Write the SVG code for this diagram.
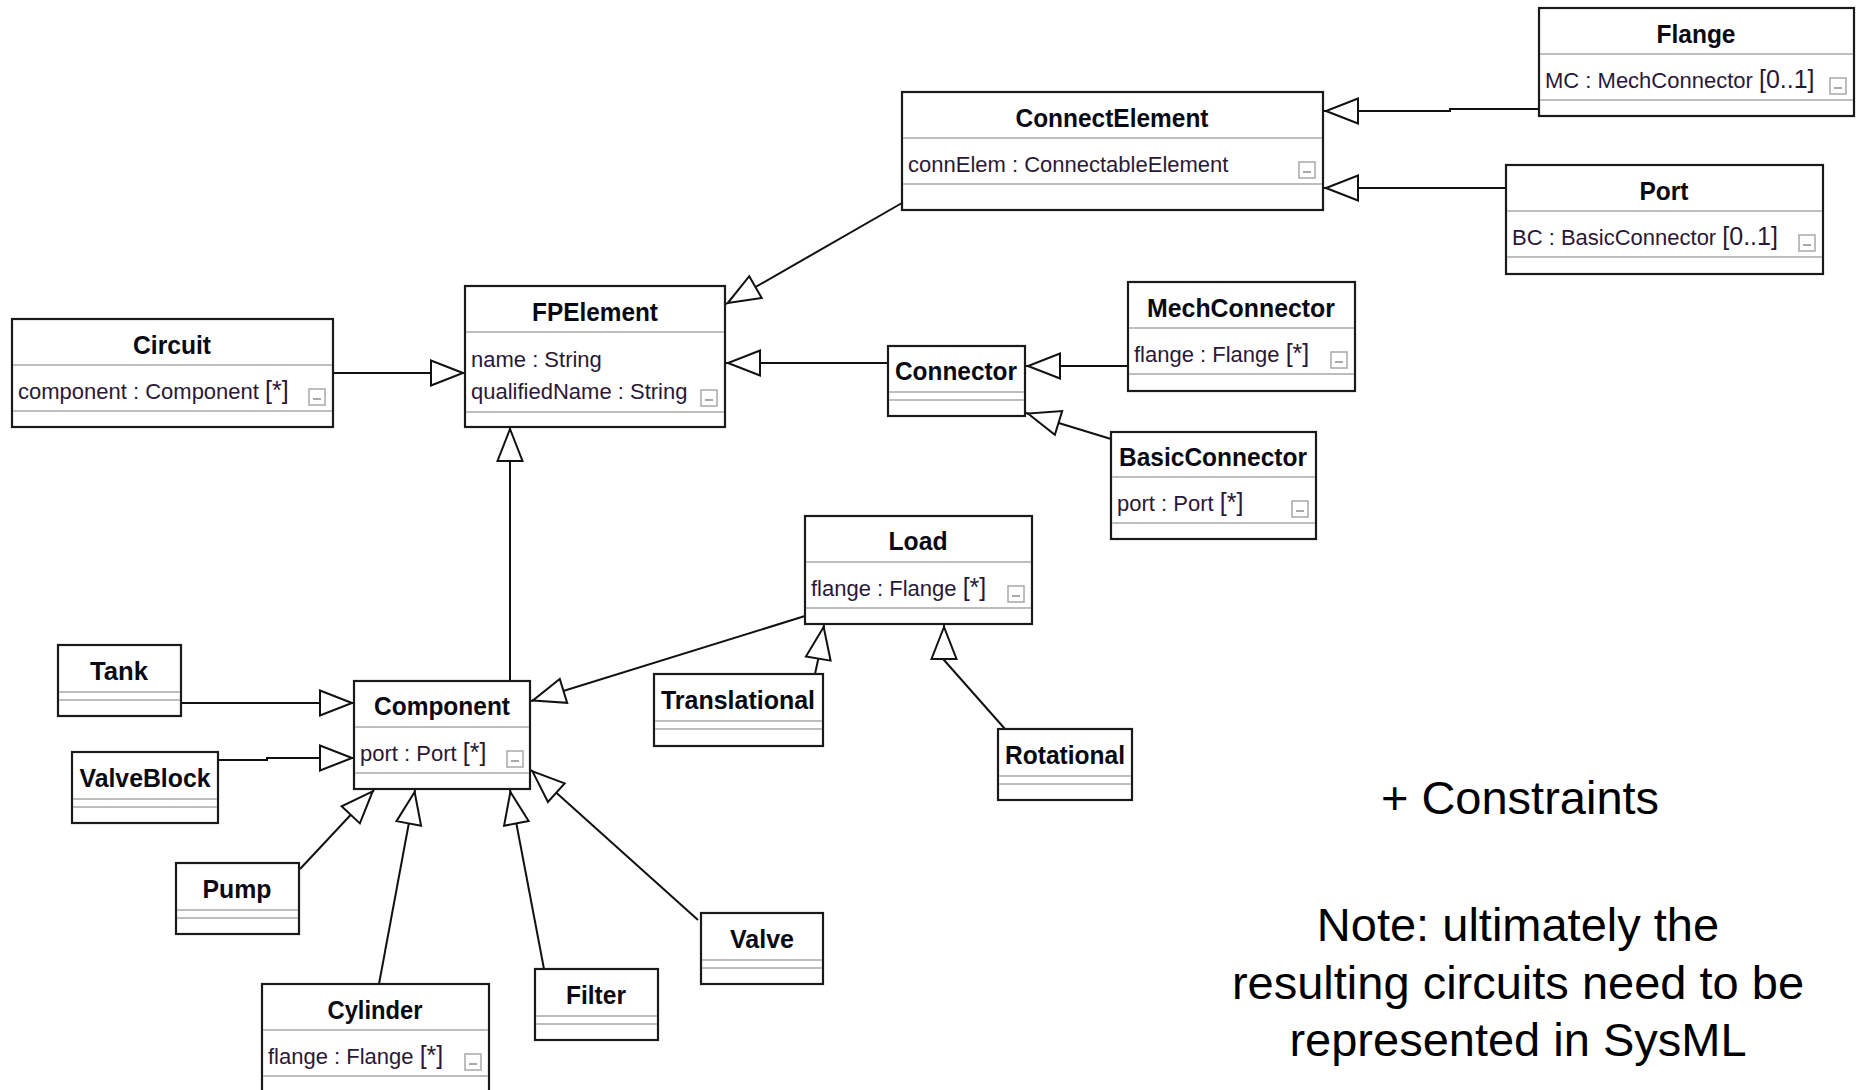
<svg xmlns="http://www.w3.org/2000/svg" width="1856" height="1090" viewBox="0 0 1856 1090">
  <style>
    .box { fill: #ffffff; stroke: #1a1a1a; stroke-width: 2.2; }
    .div { stroke: #bdbdbd; stroke-width: 2; }
    .title { font-family: "Liberation Sans", Arial, sans-serif; font-weight: bold; font-size: 26px; fill: #0a0a14; text-anchor: middle; }
    .attr { font-family: "Liberation Sans", Arial, sans-serif; font-size: 22px; fill: #2a1836; }
    .mult { font-size: 25px; }
    .tog rect { fill: #ffffff; stroke: #a8a8a8; stroke-width: 1.5; }
    .tog line { stroke: #8c8c8c; stroke-width: 1.5; }
    .edge { fill: none; stroke: #111111; stroke-width: 2; marker-end: url(#gen); }
    .note { font-family: "Liberation Sans", Arial, sans-serif; font-size: 47px; fill: #000000; text-anchor: middle; }
  </style>
  <defs>
    <!-- hollow generalization triangle -->
    <marker id="gen" markerUnits="userSpaceOnUse" markerWidth="44" markerHeight="34" viewBox="-38 -17 44 34" refX="0" refY="0" orient="auto" overflow="visible">
      <path d="M-2,0 L-34,-12.5 L-34,12.5 Z" fill="#ffffff" stroke="#111111" stroke-width="2"/>
    </marker>
  </defs>
  <rect width="1856" height="1090" fill="#ffffff"/>

  <!-- generalization connectors -->
  <g id="connectors">
    <polyline class="edge" points="1539,109 1450,109 1450,111 1324,111"/>
    <polyline class="edge" points="1506,188 1324,188"/>
    <polyline class="edge" points="902,203 726,304"/>
    <polyline class="edge" points="888,363 726,363"/>
    <polyline class="edge" points="333,373 465,373"/>
    <polyline class="edge" points="1128,366 1026,366"/>
    <polyline class="edge" points="1111,439 1026,413"/>
    <polyline class="edge" points="510,681 510,427"/>
    <polyline class="edge" points="805,616 531,701"/>
    <polyline class="edge" points="815,674 818,660 824,625"/>
    <polyline class="edge" points="1005,729 944,660 944,625"/>
    <polyline class="edge" points="181,703 354,703"/>
    <polyline class="edge" points="218,760 267,760 267,758 354,758"/>
    <polyline class="edge" points="300,869 374,790"/>
    <polyline class="edge" points="379,984 415,790"/>
    <polyline class="edge" points="544,969 510,790"/>
    <polyline class="edge" points="698,920 531,770"/>
  </g>

  <g id="n-flange">
    <rect class="box" x="1539" y="8" width="315" height="108"/>
    <line class="div" x1="1540" y1="54" x2="1853" y2="54"/>
    <line class="div" x1="1540" y1="100" x2="1853" y2="100"/>
    <text class="title" x="1696" y="43" textLength="79" lengthAdjust="spacingAndGlyphs">Flange</text>
    <text class="attr" x="1545" y="88">MC : MechConnector <tspan class="mult">[0..1]</tspan></text>
    <g class="tog"><rect x="1830" y="78" width="16" height="16"/><line x1="1834" y1="88" x2="1842" y2="88"/></g>
  </g>

  <g id="n-connectelement">
    <rect class="box" x="902" y="92" width="421" height="118"/>
    <line class="div" x1="903" y1="138" x2="1322" y2="138"/>
    <line class="div" x1="903" y1="184" x2="1322" y2="184"/>
    <text class="title" x="1112" y="127" textLength="193" lengthAdjust="spacingAndGlyphs">ConnectElement</text>
    <text class="attr" x="908" y="172">connElem : ConnectableElement</text>
    <g class="tog"><rect x="1299" y="162" width="16" height="16"/><line x1="1303" y1="172" x2="1311" y2="172"/></g>
  </g>

  <g id="n-port">
    <rect class="box" x="1506" y="165" width="317" height="109"/>
    <line class="div" x1="1507" y1="211" x2="1822" y2="211"/>
    <line class="div" x1="1507" y1="257" x2="1822" y2="257"/>
    <text class="title" x="1664" y="200" textLength="49" lengthAdjust="spacingAndGlyphs">Port</text>
    <text class="attr" x="1512" y="245">BC : BasicConnector <tspan class="mult">[0..1]</tspan></text>
    <g class="tog"><rect x="1799" y="235" width="16" height="16"/><line x1="1803" y1="245" x2="1811" y2="245"/></g>
  </g>

  <g id="n-fpelement">
    <rect class="box" x="465" y="286" width="260" height="141"/>
    <line class="div" x1="466" y1="332" x2="724" y2="332"/>
    <line class="div" x1="466" y1="412" x2="724" y2="412"/>
    <text class="title" x="595" y="321" textLength="126" lengthAdjust="spacingAndGlyphs">FPElement</text>
    <text class="attr" x="471" y="367">name : String</text>
    <text class="attr" x="471" y="399">qualifiedName : String</text>
    <g class="tog"><rect x="701" y="390" width="16" height="16"/><line x1="705" y1="400" x2="713" y2="400"/></g>
  </g>

  <g id="n-circuit">
    <rect class="box" x="12" y="319" width="321" height="108"/>
    <line class="div" x1="13" y1="365" x2="332" y2="365"/>
    <line class="div" x1="13" y1="411" x2="332" y2="411"/>
    <text class="title" x="172" y="354" textLength="78" lengthAdjust="spacingAndGlyphs">Circuit</text>
    <text class="attr" x="18" y="399">component : Component <tspan class="mult">[*]</tspan></text>
    <g class="tog"><rect x="309" y="389" width="16" height="16"/><line x1="313" y1="399" x2="321" y2="399"/></g>
  </g>

  <g id="n-connector">
    <rect class="box" x="888" y="346" width="137" height="70"/>
    <line class="div" x1="889" y1="392" x2="1024" y2="392"/>
    <line class="div" x1="889" y1="400" x2="1024" y2="400"/>
    <text class="title" x="956" y="380" textLength="122" lengthAdjust="spacingAndGlyphs">Connector</text>
  </g>

  <g id="n-mechconnector">
    <rect class="box" x="1128" y="282" width="227" height="109"/>
    <line class="div" x1="1129" y1="328" x2="1354" y2="328"/>
    <line class="div" x1="1129" y1="374" x2="1354" y2="374"/>
    <text class="title" x="1241" y="317" textLength="188" lengthAdjust="spacingAndGlyphs">MechConnector</text>
    <text class="attr" x="1134" y="362">flange : Flange <tspan class="mult">[*]</tspan></text>
    <g class="tog"><rect x="1331" y="352" width="16" height="16"/><line x1="1335" y1="362" x2="1343" y2="362"/></g>
  </g>

  <g id="n-basicconnector">
    <rect class="box" x="1111" y="432" width="205" height="107"/>
    <line class="div" x1="1112" y1="477" x2="1315" y2="477"/>
    <line class="div" x1="1112" y1="523" x2="1315" y2="523"/>
    <text class="title" x="1213" y="466" textLength="188" lengthAdjust="spacingAndGlyphs">BasicConnector</text>
    <text class="attr" x="1117" y="511">port : Port <tspan class="mult">[*]</tspan></text>
    <g class="tog"><rect x="1292" y="501" width="16" height="16"/><line x1="1296" y1="511" x2="1304" y2="511"/></g>
  </g>

  <g id="n-load">
    <rect class="box" x="805" y="516" width="227" height="108"/>
    <line class="div" x1="806" y1="562" x2="1031" y2="562"/>
    <line class="div" x1="806" y1="608" x2="1031" y2="608"/>
    <text class="title" x="918" y="550" textLength="59" lengthAdjust="spacingAndGlyphs">Load</text>
    <text class="attr" x="811" y="596">flange : Flange <tspan class="mult">[*]</tspan></text>
    <g class="tog"><rect x="1008" y="586" width="16" height="16"/><line x1="1012" y1="596" x2="1020" y2="596"/></g>
  </g>

  <g id="n-tank">
    <rect class="box" x="58" y="645" width="123" height="71"/>
    <line class="div" x1="59" y1="692" x2="180" y2="692"/>
    <line class="div" x1="59" y1="700" x2="180" y2="700"/>
    <text class="title" x="119" y="680" textLength="58" lengthAdjust="spacingAndGlyphs">Tank</text>
  </g>

  <g id="n-component">
    <rect class="box" x="354" y="681" width="176" height="108"/>
    <line class="div" x1="355" y1="727" x2="529" y2="727"/>
    <line class="div" x1="355" y1="773" x2="529" y2="773"/>
    <text class="title" x="442" y="715" textLength="136" lengthAdjust="spacingAndGlyphs">Component</text>
    <text class="attr" x="360" y="761">port : Port <tspan class="mult">[*]</tspan></text>
    <g class="tog"><rect x="507" y="751" width="16" height="16"/><line x1="511" y1="761" x2="519" y2="761"/></g>
  </g>

  <g id="n-valveblock">
    <rect class="box" x="72" y="752" width="146" height="71"/>
    <line class="div" x1="73" y1="799" x2="217" y2="799"/>
    <line class="div" x1="73" y1="807" x2="217" y2="807"/>
    <text class="title" x="145" y="787" textLength="131" lengthAdjust="spacingAndGlyphs">ValveBlock</text>
  </g>

  <g id="n-translational">
    <rect class="box" x="654" y="674" width="169" height="72"/>
    <line class="div" x1="655" y1="721" x2="822" y2="721"/>
    <line class="div" x1="655" y1="729" x2="822" y2="729"/>
    <text class="title" x="738" y="709" textLength="154" lengthAdjust="spacingAndGlyphs">Translational</text>
  </g>

  <g id="n-rotational">
    <rect class="box" x="998" y="729" width="134" height="71"/>
    <line class="div" x1="999" y1="776" x2="1131" y2="776"/>
    <line class="div" x1="999" y1="784" x2="1131" y2="784"/>
    <text class="title" x="1065" y="764" textLength="120" lengthAdjust="spacingAndGlyphs">Rotational</text>
  </g>

  <g id="n-pump">
    <rect class="box" x="176" y="863" width="123" height="71"/>
    <line class="div" x1="177" y1="910" x2="298" y2="910"/>
    <line class="div" x1="177" y1="918" x2="298" y2="918"/>
    <text class="title" x="237" y="898" textLength="69" lengthAdjust="spacingAndGlyphs">Pump</text>
  </g>

  <g id="n-valve">
    <rect class="box" x="701" y="913" width="122" height="71"/>
    <line class="div" x1="702" y1="960" x2="822" y2="960"/>
    <line class="div" x1="702" y1="968" x2="822" y2="968"/>
    <text class="title" x="762" y="948" textLength="64" lengthAdjust="spacingAndGlyphs">Valve</text>
  </g>

  <g id="n-filter">
    <rect class="box" x="535" y="969" width="123" height="71"/>
    <line class="div" x1="536" y1="1016" x2="657" y2="1016"/>
    <line class="div" x1="536" y1="1024" x2="657" y2="1024"/>
    <text class="title" x="596" y="1004" textLength="60" lengthAdjust="spacingAndGlyphs">Filter</text>
  </g>

  <g id="n-cylinder">
    <rect class="box" x="262" y="984" width="227" height="130"/>
    <line class="div" x1="263" y1="1030" x2="488" y2="1030"/>
    <line class="div" x1="263" y1="1076" x2="488" y2="1076"/>
    <text class="title" x="375" y="1019" textLength="95" lengthAdjust="spacingAndGlyphs">Cylinder</text>
    <text class="attr" x="268" y="1064">flange : Flange <tspan class="mult">[*]</tspan></text>
    <g class="tog"><rect x="465" y="1054" width="16" height="16"/><line x1="469" y1="1064" x2="477" y2="1064"/></g>
  </g>

  <g id="notes">
    <text class="note" x="1520" y="814">+ Constraints</text>
    <text class="note" x="1518" y="941">Note: ultimately the</text>
    <text class="note" x="1518" y="999">resulting circuits need to be</text>
    <text class="note" x="1518" y="1056">represented in SysML</text>
  </g>
</svg>
